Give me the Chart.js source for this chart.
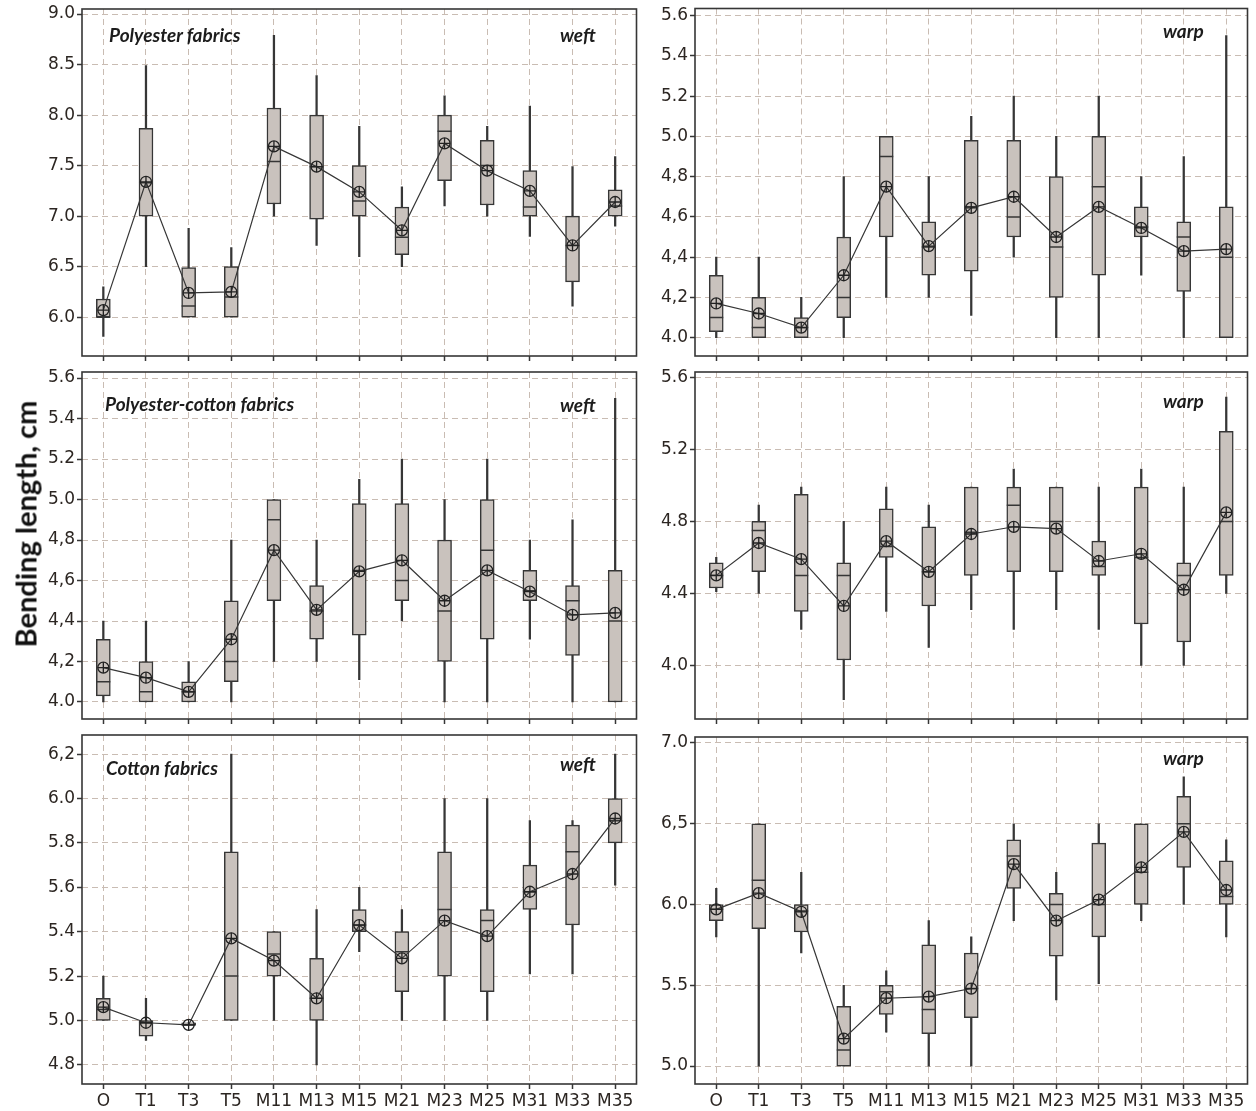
<!DOCTYPE html>
<html>
<head>
<meta charset="utf-8">
<script src="https://cdn.jsdelivr.net/npm/chart.js@4.4.1/dist/chart.umd.min.js"></script>
<style>
  html, body { margin: 0; padding: 0; background: #ffffff; }
  #wrap { position: relative; width: 1256px; height: 1111px; overflow: hidden; background: #fff; }
  #wrap canvas { position: absolute; }
  .ann { position: absolute; font-family: Lato, "Open Sans", sans-serif; font-weight: 700; font-style: italic;
         font-size: 19px; line-height: 1; color: #1c1c1c; white-space: nowrap; }
  #ytitle { position: absolute; left: 25px; top: 524px; font-family: Lato, "Open Sans", sans-serif; font-weight: 700;
            font-size: 29px; line-height: 1; color: #111; white-space: nowrap;
            transform: translate(-50%, -50%) rotate(-90deg); }
</style>
</head>
<body>
<div id="wrap">
  <canvas id="cTL" width="625" height="366" style="left:20px;top:0px;"></canvas>
  <canvas id="cTR" width="611" height="366" style="left:645px;top:0px;"></canvas>
  <canvas id="cML" width="625" height="366" style="left:20px;top:363px;"></canvas>
  <canvas id="cMR" width="611" height="366" style="left:645px;top:363px;"></canvas>
  <canvas id="cBL" width="625" height="385" style="left:20px;top:726px;"></canvas>
  <canvas id="cBR" width="611" height="385" style="left:645px;top:726px;"></canvas>

  <div class="ann" style="left:109px;top:25px;">Polyester fabrics</div>
  <div class="ann" style="left:560px;top:25px;">weft</div>
  <div class="ann" style="left:1163px;top:21px;">warp</div>
  <div class="ann" style="left:105px;top:394px;">Polyester-cotton fabrics</div>
  <div class="ann" style="left:560px;top:395px;">weft</div>
  <div class="ann" style="left:1163px;top:391px;">warp</div>
  <div class="ann" style="left:106px;top:758px;">Cotton fabrics</div>
  <div class="ann" style="left:560px;top:754px;">weft</div>
  <div class="ann" style="left:1163px;top:748px;">warp</div>

  <div id="ytitle">Bending length, cm</div>
</div>

<script>
// ---------------- DATA ----------------
const CATEGORIES = ['O','T1','T3','T5','M11','M13','M15','M21','M23','M25','M31','M33','M35'];

// Polyester fabrics – weft
const peWeftMin  = [5.81, 6.50, 6.00, 6.00, 7.00, 6.71, 6.60, 6.50, 7.10, 7.00, 6.80, 6.11, 6.90];
const peWeftQ1   = [6.00, 7.00, 6.00, 6.00, 7.12, 6.97, 7.00, 6.62, 7.35, 7.11, 7.00, 6.35, 7.00];
const peWeftMed  = [6.00, 7.33, 6.11, 6.20, 7.54, 7.49, 7.15, 6.79, 7.84, 7.50, 7.09, 6.71, 7.10];
const peWeftQ3   = [6.18, 7.87, 6.49, 6.50, 8.07, 8.00, 7.50, 7.09, 8.00, 7.75, 7.45, 7.00, 7.26];
const peWeftMax  = [6.30, 8.49, 6.88, 6.69, 8.79, 8.39, 7.89, 7.29, 8.19, 7.89, 8.09, 7.49, 7.59];
const peWeftMean = [6.07, 7.34, 6.24, 6.25, 7.69, 7.49, 7.24, 6.86, 7.72, 7.45, 7.25, 6.71, 7.14];

// Polyester fabrics – warp
const peWarpMin  = [4.00, 4.00, 4.00, 4.00, 4.20, 4.20, 4.11, 4.40, 4.00, 4.00, 4.31, 4.00, 4.00];
const peWarpQ1   = [4.03, 4.00, 4.00, 4.10, 4.50, 4.31, 4.33, 4.50, 4.20, 4.31, 4.50, 4.23, 4.00];
const peWarpMed  = [4.10, 4.05, 4.05, 4.20, 4.90, 4.45, 4.65, 4.60, 4.45, 4.75, 4.55, 4.50, 4.40];
const peWarpQ3   = [4.31, 4.20, 4.10, 4.50, 5.00, 4.575, 4.98, 4.98, 4.80, 5.00, 4.65, 4.575, 4.65];
const peWarpMax  = [4.40, 4.40, 4.20, 4.80, 5.00, 4.80, 5.10, 5.20, 5.00, 5.20, 4.80, 4.90, 5.50];
const peWarpMean = [4.17, 4.12, 4.05, 4.31, 4.75, 4.455, 4.645, 4.70, 4.50, 4.65, 4.545, 4.43, 4.44];

// Polyester-cotton fabrics – weft
const pcWeftMin  = [4.00, 4.00, 4.00, 4.00, 4.20, 4.20, 4.11, 4.40, 4.00, 4.00, 4.31, 4.00, 4.00];
const pcWeftQ1   = [4.03, 4.00, 4.00, 4.10, 4.50, 4.31, 4.33, 4.50, 4.20, 4.31, 4.50, 4.23, 4.00];
const pcWeftMed  = [4.10, 4.05, 4.05, 4.20, 4.90, 4.45, 4.65, 4.60, 4.45, 4.75, 4.55, 4.50, 4.40];
const pcWeftQ3   = [4.31, 4.20, 4.10, 4.50, 5.00, 4.575, 4.98, 4.98, 4.80, 5.00, 4.65, 4.575, 4.65];
const pcWeftMax  = [4.40, 4.40, 4.20, 4.80, 5.00, 4.80, 5.10, 5.20, 5.00, 5.20, 4.80, 4.90, 5.50];
const pcWeftMean = [4.17, 4.12, 4.05, 4.31, 4.75, 4.455, 4.645, 4.70, 4.50, 4.65, 4.545, 4.43, 4.44];

// Polyester-cotton fabrics – warp
const pcWarpMin  = [4.41, 4.40, 4.20, 3.81, 4.30, 4.10, 4.31, 4.20, 4.31, 4.20, 4.00, 4.00, 4.40];
const pcWarpQ1   = [4.43, 4.52, 4.30, 4.03, 4.60, 4.33, 4.50, 4.52, 4.52, 4.50, 4.23, 4.13, 4.50];
const pcWarpMed  = [4.50, 4.75, 4.50, 4.50, 4.66, 4.52, 4.74, 4.89, 4.80, 4.55, 4.60, 4.50, 4.80];
const pcWarpQ3   = [4.57, 4.80, 4.95, 4.57, 4.87, 4.77, 4.99, 4.99, 4.99, 4.69, 4.99, 4.57, 5.30];
const pcWarpMax  = [4.60, 4.89, 4.99, 4.80, 4.99, 4.89, 4.99, 5.09, 4.99, 4.99, 5.09, 4.99, 5.49];
const pcWarpMean = [4.50, 4.68, 4.59, 4.33, 4.69, 4.52, 4.73, 4.77, 4.76, 4.58, 4.62, 4.42, 4.85];

// Cotton fabrics – weft
const coWeftMin  = [5.00, 4.91, 4.98, 5.00, 5.00, 4.80, 5.31, 5.00, 5.00, 5.00, 5.21, 5.21, 5.61];
const coWeftQ1   = [5.00, 4.93, 4.98, 5.00, 5.20, 5.00, 5.40, 5.13, 5.20, 5.13, 5.50, 5.43, 5.80];
const coWeftMed  = [5.05, 4.99, 4.98, 5.20, 5.30, 5.10, 5.43, 5.31, 5.50, 5.45, 5.58, 5.76, 5.90];
const coWeftQ3   = [5.10, 5.00, 4.99, 5.76, 5.40, 5.28, 5.50, 5.40, 5.76, 5.50, 5.70, 5.88, 6.00];
const coWeftMax  = [5.20, 5.10, 4.99, 6.20, 5.40, 5.50, 5.60, 5.50, 6.00, 6.00, 5.90, 5.90, 6.20];
const coWeftMean = [5.06, 4.99, 4.98, 5.37, 5.27, 5.10, 5.43, 5.28, 5.45, 5.38, 5.58, 5.66, 5.91];

// Cotton fabrics – warp
const coWarpMin  = [5.80, 5.00, 5.70, 5.00, 5.21, 5.00, 5.00, 5.90, 5.41, 5.51, 5.90, 6.00, 5.80];
const coWarpQ1   = [5.90, 5.85, 5.83, 5.00, 5.32, 5.20, 5.30, 6.10, 5.68, 5.80, 6.00, 6.23, 6.00];
const coWarpMed  = [5.97, 6.15, 5.96, 5.10, 5.46, 5.35, 5.48, 6.30, 6.00, 6.00, 6.20, 6.50, 6.05];
const coWarpQ3   = [6.00, 6.50, 6.00, 5.37, 5.50, 5.75, 5.70, 6.40, 6.07, 6.38, 6.50, 6.67, 6.27];
const coWarpMax  = [6.10, 6.50, 6.20, 5.50, 5.59, 5.90, 5.80, 6.50, 6.20, 6.50, 6.50, 6.79, 6.40];
const coWarpMean = [5.97, 6.07, 5.955, 5.17, 5.42, 5.43, 5.48, 6.25, 5.90, 6.03, 6.23, 6.45, 6.09];

// Y tick values and labels
const peWeftTicks  = [6.0, 6.5, 7.0, 7.5, 8.0, 8.5, 9.0];
const peWeftLabels = ['6.0', '6.5', '7.0', '7.5', '8.0', '8.5', '9.0'];
const peWarpTicks  = [4.0, 4.2, 4.4, 4.6, 4.8, 5.0, 5.2, 5.4, 5.6];
const peWarpLabels = ['4.0', '4,2', '4,4', '4,6', '4,8', '5.0', '5.2', '5.4', '5.6'];
const pcWeftTicks  = [4.0, 4.2, 4.4, 4.6, 4.8, 5.0, 5.2, 5.4, 5.6];
const pcWeftLabels = ['4.0', '4,2', '4,4', '4,6', '4,8', '5.0', '5.2', '5.4', '5.6'];
const pcWarpTicks  = [4.0, 4.4, 4.8, 5.2, 5.6];
const pcWarpLabels = ['4.0', '4.4', '4.8', '5.2', '5.6'];
const coWeftTicks  = [4.8, 5.0, 5.2, 5.4, 5.6, 5.8, 6.0, 6.2];
const coWeftLabels = ['4.8', '5.0', '5.2', '5.4', '5.6', '5.8', '6.0', '6,2'];
const coWarpTicks  = [5.0, 5.5, 6.0, 6.5, 7.0];
const coWarpLabels = ['5.0', '5.5', '6.0', '6,5', '7.0'];

// ---------------- DRAWING ----------------
const INK = '#363636';
const GRID = '#c9bcb3';
const BOX_FILL = '#c9c2bd';
const TICK_TEXT = '#2c2622';

const framePlugin = {
  id: 'frame',
  afterDraw(chart) {
    const { ctx, chartArea: a } = chart;
    ctx.save();
    ctx.strokeStyle = INK;
    ctx.lineWidth = 1.6;
    ctx.setLineDash([]);
    ctx.strokeRect(a.left, a.top, a.right - a.left, a.bottom - a.top);
    ctx.restore();
  }
};

function makePanel(p) {
  const wh = p.min.map((v, i) => [v, p.max[i]]);
  const bx = p.q1.map((v, i) => [v, p.q3[i]]);
  new Chart(document.getElementById(p.id), {
    type: 'bar',
    data: {
      labels: CATEGORIES,
      datasets: [
        { type: 'bar', data: wh, backgroundColor: INK, borderWidth: 0, barThickness: 1.6, grouped: false, order: 5 },
        { type: 'bar', data: bx, backgroundColor: BOX_FILL, borderColor: INK, borderWidth: 1.5,
          borderSkipped: false, barThickness: 14, grouped: false, order: 4 },
        { type: 'line', data: p.med, showLine: false, pointStyle: 'line', pointRadius: 7,
          pointBorderColor: INK, pointBorderWidth: 1.5, order: 3 },
        { type: 'line', data: p.mean, borderColor: INK, borderWidth: 1.2, pointStyle: 'circle', pointRadius: 5.5,
          pointBackgroundColor: 'rgba(0,0,0,0)', pointBorderColor: '#222', pointBorderWidth: 1.3, order: 2 },
        { type: 'line', data: p.mean, showLine: false, pointStyle: 'cross', pointRadius: 5.5,
          pointBorderColor: '#222', pointBorderWidth: 1.3, order: 1 }
      ]
    },
    options: {
      responsive: false,
      animation: false,
      events: [],
      layout: { padding: { top: p.padTop, right: p.padRight, left: 0, bottom: 0 } },
      plugins: { legend: { display: false }, tooltip: { enabled: false } },
      scales: {
        x: {
          offset: true,
          grid: { offset: false, color: GRID, lineWidth: 1, drawTicks: true, tickLength: 5,
                  tickColor: INK, tickWidth: 1.5, tickBorderDash: [] },
          border: { display: false, dash: [6, 4] },
          ticks: { display: p.showX, color: TICK_TEXT, font: { family: 'DejaVu Sans', size: 17 },
                   padding: 2, maxRotation: 0, autoSkip: false },
          afterFit(sc) { sc.height = p.xHeight; sc.paddingLeft = 0; sc.paddingRight = 0; }
        },
        y: {
          min: p.yMin, max: p.yMax,
          grid: { color: GRID, lineWidth: 1, drawTicks: true, tickLength: 5,
                  tickColor: INK, tickWidth: 1.5, tickBorderDash: [] },
          border: { display: false, dash: [6, 4] },
          ticks: { color: TICK_TEXT, font: { family: 'DejaVu Sans', size: 17 }, padding: 2,
                   callback: (v, i) => p.tickLabels[i] },
          afterBuildTicks(sc) { sc.ticks = p.ticks.map(v => ({ value: v })); },
          afterFit(sc) { sc.width = p.yWidth; sc.paddingTop = 0; sc.paddingBottom = 0; }
        }
      }
    },
    plugins: [framePlugin]
  });
}

makePanel({ id: 'cTL', min: peWeftMin, q1: peWeftQ1, med: peWeftMed, q3: peWeftQ3, max: peWeftMax, mean: peWeftMean,
  ticks: peWeftTicks, tickLabels: peWeftLabels, yMin: 5.616, yMax: 9.05,
  padTop: 9, padRight: 6, yWidth: 62, xHeight: 10, showX: false });
makePanel({ id: 'cTR', min: peWarpMin, q1: peWarpQ1, med: peWarpMed, q3: peWarpQ3, max: peWarpMax, mean: peWarpMean,
  ticks: peWarpTicks, tickLabels: peWarpLabels, yMin: 3.909, yMax: 5.635,
  padTop: 8, padRight: 3, yWidth: 50, xHeight: 10, showX: false });
makePanel({ id: 'cML', min: pcWeftMin, q1: pcWeftQ1, med: pcWeftMed, q3: pcWeftQ3, max: pcWeftMax, mean: pcWeftMean,
  ticks: pcWeftTicks, tickLabels: pcWeftLabels, yMin: 3.916, yMax: 5.63,
  padTop: 9, padRight: 6, yWidth: 62, xHeight: 10, showX: false });
makePanel({ id: 'cMR', min: pcWarpMin, q1: pcWarpQ1, med: pcWarpMed, q3: pcWarpQ3, max: pcWarpMax, mean: pcWarpMean,
  ticks: pcWarpTicks, tickLabels: pcWarpLabels, yMin: 3.702, yMax: 5.63,
  padTop: 9, padRight: 3, yWidth: 50, xHeight: 10, showX: false });
makePanel({ id: 'cBL', min: coWeftMin, q1: coWeftQ1, med: coWeftMed, q3: coWeftQ3, max: coWeftMax, mean: coWeftMean,
  ticks: coWeftTicks, tickLabels: coWeftLabels, yMin: 4.714, yMax: 6.286,
  padTop: 9, padRight: 6, yWidth: 62, xHeight: 27, showX: true });
makePanel({ id: 'cBR', min: coWarpMin, q1: coWarpQ1, med: coWarpMed, q3: coWarpQ3, max: coWarpMax, mean: coWarpMean,
  ticks: coWarpTicks, tickLabels: coWarpLabels, yMin: 4.889, yMax: 7.037,
  padTop: 11, padRight: 3, yWidth: 50, xHeight: 27, showX: true });
</script>
</body>
</html>
